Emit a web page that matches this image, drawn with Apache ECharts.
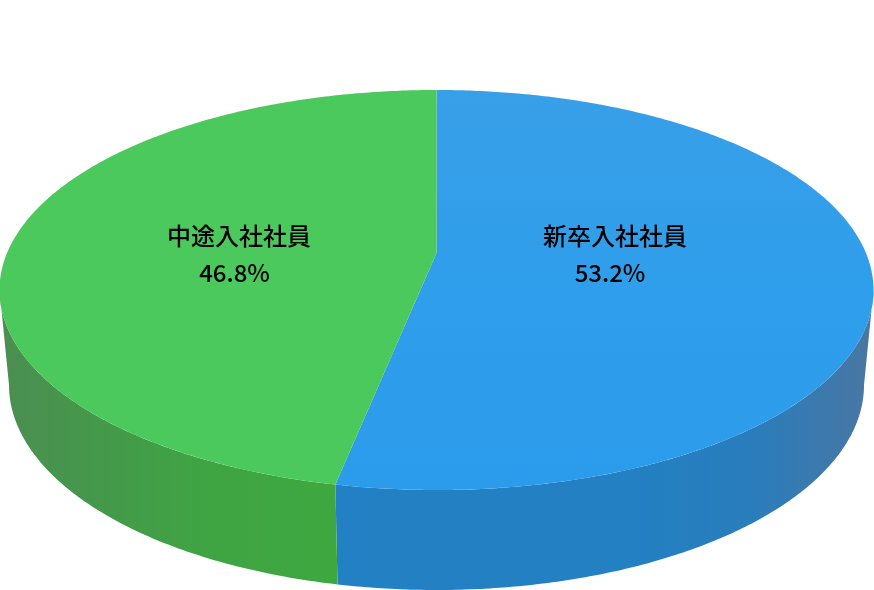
<!DOCTYPE html>
<html><head><meta charset="utf-8">
<style>html,body{margin:0;padding:0;background:#fff}#c{width:874px;height:590px}</style>
<script src="https://cdn.jsdelivr.net/npm/echarts@6/dist/echarts.min.js"></script>
</head><body><div id="c"></div>
<script>
const categories = ['新卒入社社員', '中途入社社員'];
const shares = [53.2, 46.8];

const TOP = {cx: 436.5, yTop: 90, yBottom: 490, halfW: 437};
const BASE = {cx: 436.5, yTop: 180, yBottom: 590, halfW: 427.5};
const PERSPECTIVE = 0.15;
const APEX = [436.5, 253];
const NAME_POS = [[615, 236], [239, 236]];
const SHARE_POS = [[610, 273], [234.5, 273]];
const TOP_FILL = [
  {type:'linear',x:0,y:0,x2:0,y2:1,colorStops:[{offset:0,color:'#389fe8'},{offset:0.5,color:'#2f9eeb'},{offset:1,color:'#2b9cec'}]},
  '#4cc95c'
];
const SIDE_FILL = [
  {type:'linear',x:0,y:0,x2:1,y2:0,colorStops:[{offset:0,color:'#2280c4'},{offset:0.55,color:'#2380c3'},{offset:0.78,color:'#2a7dbb'},{offset:1,color:'#4a76a2'}]},
  {type:'linear',x:0,y:0,x2:1,y2:0,colorStops:[{offset:0,color:'#4b8e52'},{offset:0.3,color:'#44994a'},{offset:0.6,color:'#3fa443'},{offset:1,color:'#3ea840'}]}
];

function project(e, theta){
  const c = PERSPECTIVE, u = Math.sin(theta), v = Math.cos(theta);
  const a = (e.yTop*(1+c) - e.yBottom*(1-c))/2;
  const b = (e.yTop*(1+c) + e.yBottom*(1-c))/2;
  const k = e.halfW*Math.sqrt(1-c*c);
  const d = 1 + c*v;
  return [e.cx + k*u/d, (a*v + b)/d];
}
function sliceRange(i){
  const total = shares.reduce((s,v)=>s+v,0);
  let start = 0;
  for(let j=0;j<i;j++) start += shares[j]/total;
  return [start*2*Math.PI, (start+shares[i]/total)*2*Math.PI];
}
function arc(e,t0,t1){
  const n = Math.max(2,Math.ceil(Math.abs(t1-t0)/0.01)), pts=[];
  for(let i=0;i<=n;i++) pts.push(project(e,t0+(t1-t0)*i/n));
  return pts;
}
function renderSide(params){
  const [t0,t1] = sliceRange(params.dataIndex);
  const wide = Math.acos(-PERSPECTIVE);
  const a = Math.max(t0,wide), b = Math.min(t1,2*Math.PI-wide);
  return {type:'polygon',shape:{points:arc(TOP,a,b).concat(arc(BASE,b,a))},
    style:{fill:SIDE_FILL[params.dataIndex]}};
}
function label(text,pos){
  return {type:'text',x:pos[0],y:pos[1],z2:10,style:{
    text,fill:'#000',font:'500 24px "Noto Sans CJK JP"',align:'center',verticalAlign:'middle'}};
}
function renderTop(params){
  const i = params.dataIndex, [t0,t1] = sliceRange(i);
  return {type:'group',children:[
    {type:'polygon',shape:{points:[APEX].concat(arc(TOP,t0,t1))},style:{fill:TOP_FILL[i]}},
    label(categories[i],NAME_POS[i]),
    label(shares[i].toFixed(1)+'%',SHARE_POS[i])
  ]};
}
const data = categories.map((name,i)=>({name,value:shares[i]}));
const chart = echarts.init(document.getElementById('c'),null,{renderer:'canvas'});
chart.setOption({
  animation:false,
  backgroundColor:'#fff',
  series:[
    {type:'custom',coordinateSystem:'none',z:1,silent:true,data,renderItem:renderSide},
    {type:'custom',coordinateSystem:'none',z:2,silent:true,data,renderItem:renderTop}
  ]
});
</script></body></html>
